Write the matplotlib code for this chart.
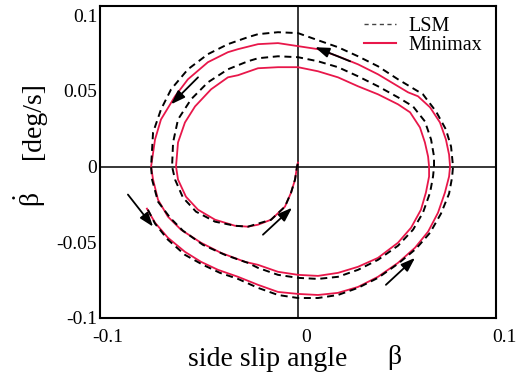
import matplotlib
matplotlib.use("Agg")
import matplotlib.pyplot as plt
from matplotlib.lines import Line2D
from matplotlib.transforms import ScaledTranslation

plt.rcParams['font.family'] = ['Liberation Serif', 'DejaVu Serif']
plt.rcParams['mathtext.fontset'] = 'custom'
plt.rcParams['mathtext.rm'] = 'Liberation Serif'
plt.rcParams['mathtext.it'] = 'Liberation Serif'

# Side slip angle trajectory (beta, beta-rate) for the Minimax estimate
mm_beta = [-0.0763, -0.0722, -0.0657, -0.0571, -0.0490, -0.0404, -0.0303, -0.0202, -0.0101, 0.0,
           0.0101, 0.0202, 0.0303, 0.0404, 0.0505, 0.0591, 0.0657, 0.0707, 0.0742, 0.0763,
           0.0768, 0.0763, 0.0747, 0.0717, 0.0667, 0.0606, 0.0556, 0.0505, 0.0404, 0.0303,
           0.0202, 0.0101, 0.0, -0.0101, -0.0202, -0.0303, -0.0354, -0.0455, -0.0556, -0.0621,
           -0.0692, -0.0722, -0.0742, -0.0732, -0.0707, -0.0657, -0.0591, -0.0490, -0.0389, -0.0268,
           -0.0202, -0.0101, 0.0, 0.0101, 0.0202, 0.0303, 0.0404, 0.0505, 0.0571, 0.0621,
           0.0646, 0.0662, 0.0662, 0.0657, 0.0641, 0.0616, 0.0566, 0.0505, 0.0404, 0.0303,
           0.0202, 0.0101, 0.0, -0.0101, -0.0202, -0.0303, -0.0354, -0.0439, -0.0520, -0.0571,
           -0.0606, -0.0616, -0.0606, -0.0566, -0.0505, -0.0419, -0.0318, -0.0253, -0.0202, -0.0136,
           -0.0066, -0.0035, -0.0015, -0.0005, 0.0]
mm_rate = [-0.0278, -0.0371, -0.0470, -0.0563, -0.0629, -0.0682, -0.0728, -0.0781, -0.0828, -0.0841,
           -0.0848, -0.0834, -0.0795, -0.0728, -0.0636, -0.0536, -0.0430, -0.0305, -0.0172, -0.0066,
           0.0, 0.0079, 0.0179, 0.0291, 0.0391, 0.0464, 0.0490, 0.0530, 0.0609, 0.0675,
           0.0728, 0.0775, 0.0795, 0.0815, 0.0808, 0.0775, 0.0755, 0.0689, 0.0576, 0.0464,
           0.0311, 0.0179, 0.0, -0.0086, -0.0219, -0.0331, -0.0417, -0.0503, -0.0570, -0.0629,
           -0.0649, -0.0695, -0.0715, -0.0722, -0.0702, -0.0662, -0.0603, -0.0503, -0.0404, -0.0285,
           -0.0172, -0.0066, 0.0, 0.0066, 0.0159, 0.0258, 0.0358, 0.0411, 0.0477, 0.0530,
           0.0589, 0.0629, 0.0656, 0.0656, 0.0649, 0.0603, 0.0589, 0.0510, 0.0397, 0.0291,
           0.0159, 0.0, -0.0086, -0.0199, -0.0285, -0.0351, -0.0391, -0.0397, -0.0384, -0.0351,
           -0.0265, -0.0172, -0.0086, 0.0, 0.0026]

# Same trajectory for the least-squares (LSM) estimate
lsm_beta = [-0.0758, -0.0722, -0.0657, -0.0571, -0.0480, -0.0394, -0.0303, -0.0202, -0.0101, 0.0,
            0.0101, 0.0202, 0.0303, 0.0404, 0.0505, 0.0596, 0.0667, 0.0722, 0.0763, 0.0778,
            0.0783, 0.0773, 0.0747, 0.0697, 0.0631, 0.0556, 0.0505, 0.0404, 0.0303, 0.0202,
            0.0101, 0.0, -0.0101, -0.0202, -0.0253, -0.0354, -0.0455, -0.0556, -0.0641, -0.0692,
            -0.0732, -0.0742, -0.0737, -0.0707, -0.0646, -0.0581, -0.0480, -0.0369, -0.0253, -0.0202,
            -0.0101, 0.0, 0.0101, 0.0202, 0.0303, 0.0404, 0.0505, 0.0581, 0.0631, 0.0667,
            0.0682, 0.0687, 0.0687, 0.0672, 0.0641, 0.0581, 0.0505, 0.0404, 0.0303, 0.0202,
            0.0101, 0.0, -0.0101, -0.0202, -0.0253, -0.0354, -0.0455, -0.0540, -0.0606, -0.0631,
            -0.0636, -0.0621, -0.0581, -0.0515, -0.0419, -0.0318, -0.0253, -0.0202, -0.0136, -0.0066,
            -0.0035, -0.0015, -0.0005, 0.0]
lsm_rate = [-0.0285, -0.0377, -0.0483, -0.0583, -0.0649, -0.0702, -0.0742, -0.0801, -0.0848, -0.0868,
            -0.0868, -0.0848, -0.0801, -0.0735, -0.0642, -0.0543, -0.0437, -0.0311, -0.0179, -0.0073,
            0.0, 0.0132, 0.0245, 0.0364, 0.0477, 0.0536, 0.0576, 0.0662, 0.0728, 0.0788,
            0.0834, 0.0881, 0.0887, 0.0874, 0.0854, 0.0808, 0.0742, 0.0642, 0.0510, 0.0377,
            0.0225, 0.0, -0.0086, -0.0232, -0.0338, -0.0424, -0.0517, -0.0583, -0.0636, -0.0669,
            -0.0715, -0.0735, -0.0742, -0.0728, -0.0682, -0.0616, -0.0523, -0.0417, -0.0305, -0.0172,
            -0.0066, 0.0, 0.0066, 0.0179, 0.0298, 0.0397, 0.0457, 0.0530, 0.0596, 0.0656,
            0.0695, 0.0722, 0.0728, 0.0715, 0.0695, 0.0642, 0.0556, 0.0444, 0.0311, 0.0159,
            0.0, -0.0086, -0.0205, -0.0298, -0.0364, -0.0391, -0.0397, -0.0377, -0.0351, -0.0265,
            -0.0172, -0.0086, 0.0, 0.0026]

# Direction-of-motion arrows: (tail, head) in data units
arrows = [((-0.0505, 0.0589), (-0.0641, 0.0411)),
          ((0.0263, 0.0695), (0.0086, 0.0788)),
          ((-0.0859, -0.0185), (-0.0732, -0.0397)),
          ((-0.0177, -0.0450), (-0.0030, -0.0272)),
          ((0.0444, -0.0781), (0.0591, -0.0603))]

xticks = [-0.1, 0, 0.1]
xtick_labels = ['-0.1', '0', '0.1']
yticks = [-0.1, -0.05, 0, 0.05, 0.1]
ytick_labels = ['-0.1', '-0.05', '0', '0.05', '0.1']

RED = '#e8174a'

fig = plt.figure(figsize=(5.17, 3.81), dpi=100)
ax = fig.add_axes([100/517, 1 - 318/381, 396/517, 312/381])

ax.axhline(0, color='black', lw=1.1, zorder=1)
ax.axvline(0, color='black', lw=1.1, zorder=1)

ax.plot(mm_beta, mm_rate, color=RED, lw=1.3, solid_joinstyle='round', zorder=2)
ax.plot(lsm_beta, lsm_rate, color='black', lw=1.4, dashes=(3.6, 2.4), zorder=3)

for tail, head in arrows:
    ax.annotate('', xy=head, xytext=tail,
                arrowprops=dict(arrowstyle='-|>,head_length=0.85,head_width=0.3',
                                color='black', lw=1.3, mutation_scale=10,
                                shrinkA=0, shrinkB=0), zorder=4)

ax.set_xlim(-0.1, 0.1)
ax.set_ylim(-0.1, 0.106)
ax.set_xticks(xticks)
ax.set_xticklabels(xtick_labels)
ax.set_yticks(yticks)
ax.set_yticklabels(ytick_labels)
ax.tick_params(length=0, labelsize=14)
ax.tick_params(axis='x', pad=8)
ax.tick_params(axis='y', pad=2)
for lab in ax.get_xticklabels():
    lab.set_transform(lab.get_transform() + ScaledTranslation(0.08, 0, fig.dpi_scale_trans))
for sp in ax.spines.values():
    sp.set_linewidth(1.5)

handles = [Line2D([], [], color='#444444', lw=1.0, dashes=(3, 2.5)),
           Line2D([], [], color=RED, lw=1.5)]
ax.legend(handles, ['LSM', 'Minimax'], loc='upper right', frameon=False,
          fontsize=14.5, handlelength=1.6, handletextpad=0.6, labelspacing=0.0,
          borderaxespad=0.0, bbox_to_anchor=(0.985, 0.99))

fig.text(268/517, 1 - 360/381, 'side slip angle', fontsize=20, ha='center', va='center')
fig.text(394/517, 1 - 358/381, 'β', fontsize=20, ha='center', va='center')
fig.text(34/517, 1 - 121/381, '[deg/s]', fontsize=20, rotation=90, ha='center', va='center')
fig.text(30/517, 1 - 200/381, r'$\dot{\beta}$', fontsize=20, rotation=90, ha='center', va='center')

fig.savefig('out.png', dpi=100, facecolor='white')
